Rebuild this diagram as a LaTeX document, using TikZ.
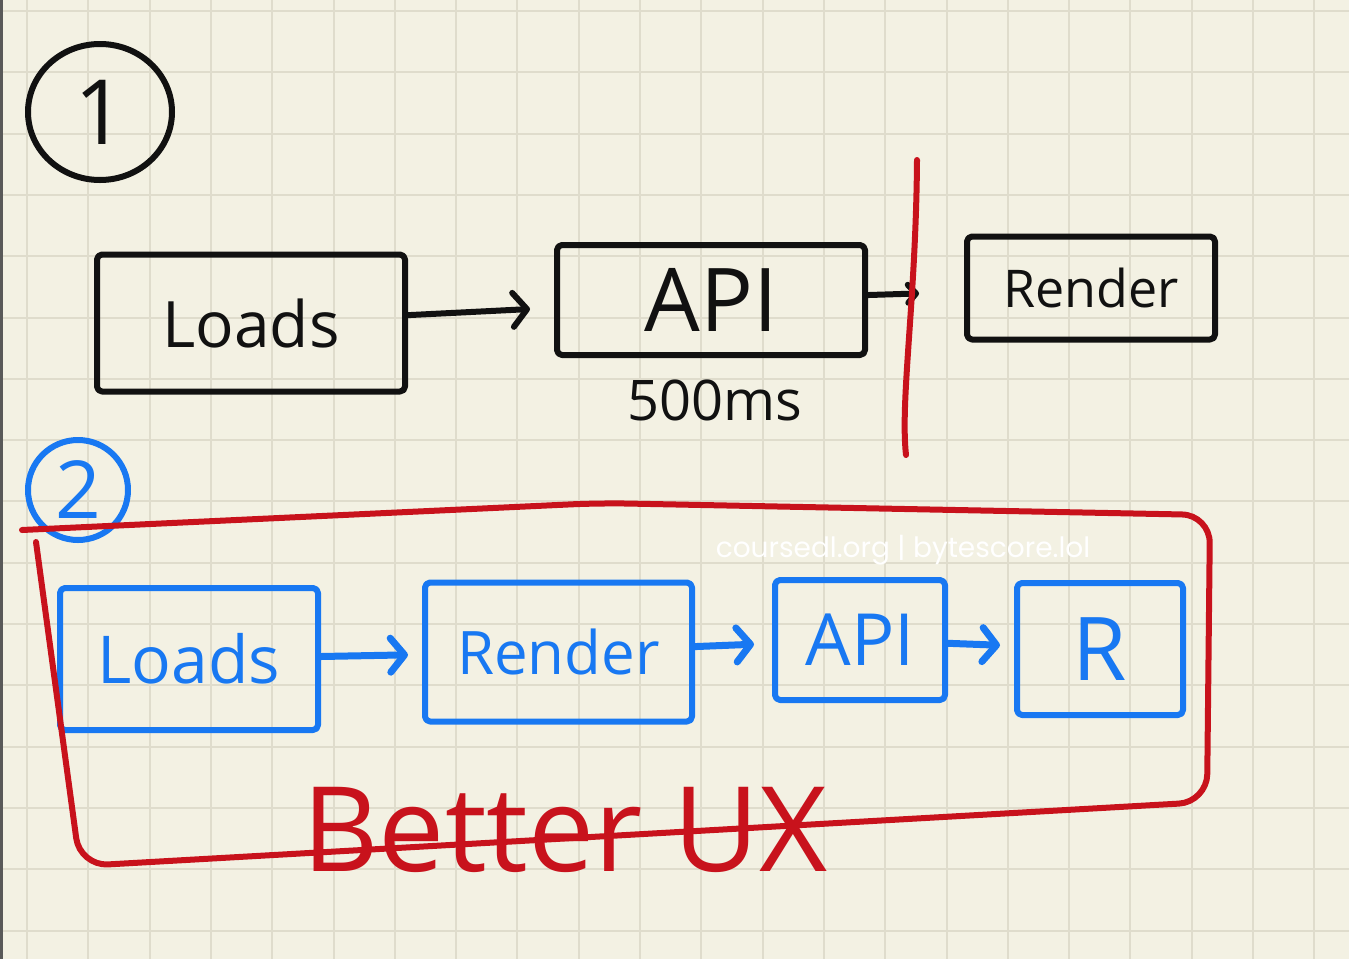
\documentclass[tikz,border=0pt]{standalone}
\usepackage{fontspec}
\setmainfont{Open Sans}
\newfontfamily\markfont{Poppins}
\usetikzlibrary{arrows.meta,positioning,shapes.geometric}
\definecolor{paper}{HTML}{F3F1E3}
\definecolor{gridline}{HTML}{DFDCCC}
\definecolor{penblue}{HTML}{1878F2}
\definecolor{penred}{HTML}{C8121C}
\definecolor{penblack}{HTML}{111111}
\newcommand\inksize[1]{\fontsize{#1}{#1}\selectfont}
\tikzset{
  ink/.style      = {line width=6pt, line cap=round, line join=round},
  box/.style      = {draw=penblack, ink, rectangle, rounded corners=5pt, inner sep=0pt, text=penblack},
  bluebox/.style  = {box, draw=penblue, text=penblue},
  numring/.style  = {draw=penblack, ink, ellipse, inner sep=0pt, text=penblack},
  post/.style     = {-{Straight Barb[length=14pt,width=34pt,round]}, ink, draw=penblack},
  small post/.style = {post, -{Straight Barb[length=8pt,width=18pt,round]}},
  blue post/.style  = {post, draw=penblue, line width=7pt},
  redpen/.style   = {ink, draw=penred}
}

\begin{document}
\begin{tikzpicture}[x=1pt,y=-1pt]
    \useasboundingbox[fill=paper] (0,0) rectangle (1349,959);
    \foreach \gx in {0,...,21} \draw[gridline, line width=2pt] ({27+61.3*\gx},0) -- ++(0,959);
    \foreach \gy in {0,...,15} \draw[gridline, line width=2pt] (0,{11+61.3*\gy}) -- ++(1349,0);
    \draw[line width=3pt, gray!70!black] (1.5,0) -- (1.5,959);

    % first version: everything waits for the API
    \node[numring, minimum width=144pt, minimum height=136pt, font=\inksize{90pt}] (one) at (100,112) {1};
    \node[box, minimum width=308pt, minimum height=137pt, font=\inksize{64pt}] (loads) at (251,323) {Loads};
    \node[box, minimum width=308pt, minimum height=110pt, font=\inksize{88pt}] (api) [right=146pt of loads, yshift=23pt] {API};
    \node[box, minimum width=248pt, minimum height=103pt, font=\inksize{52pt}] (render) [right=96pt of api, yshift=12pt] {Render};
    \node[text=penblack, font=\inksize{56pt}, inner sep=0pt] (delay) [below=22pt of api, xshift=4pt] {500ms};

    \draw[post, shorten >=24pt] (loads) -- (api);
    \draw[small post, shorten >=45pt] (api) -- (render);

    \coordinate (cut top) at (917,160);
    \coordinate (cut bottom) at (906,455);
    \draw[redpen] (cut top) .. controls (916,300) and (900,400) .. (cut bottom);

    % second version: render first, then fill in
    \node[numring, draw=penblue, text=penblue, circle, minimum size=100pt, font=\inksize{80pt}] (two) at (78,490) {2};
    \node[bluebox, minimum width=258pt, minimum height=142pt, font=\inksize{66pt}] (bloads) at (189,659) {Loads};
    \node[bluebox, minimum width=267pt, minimum height=139pt, font=\inksize{60pt}] (brender) [right=101pt of bloads, yshift=7pt] {Render};
    \node[bluebox, minimum width=170pt, minimum height=120pt, font=\inksize{72pt}] (bapi) [right=77pt of brender, yshift=12pt] {API};
    \node[bluebox, minimum width=166pt, minimum height=132pt, font=\inksize{88pt}] (br) [right=66pt of bapi, yshift=-9pt] {R};

    \draw[blue post, shorten >=14pt] (bloads) -- (brender);
    \draw[blue post, shorten >=18pt] (brender) -- (bapi);
    \draw[blue post, shorten >=14pt] (bapi) -- (br);

    \draw[redpen, rounded corners=28pt] (22,530) -- (600,503) -- (1210,515)
      -- (1207,802) -- (80,866) -- (36,542);
    \node[text=penred, font=\inksize{118pt}, inner sep=0pt] (ux) at (565,830) {Better UX};

    \node[text=white, font=\markfont\inksize{28pt}, inner sep=0pt] (mark) at (903,550) {coursedl.org | bytescore.lol};
\end{tikzpicture}
\end{document}
